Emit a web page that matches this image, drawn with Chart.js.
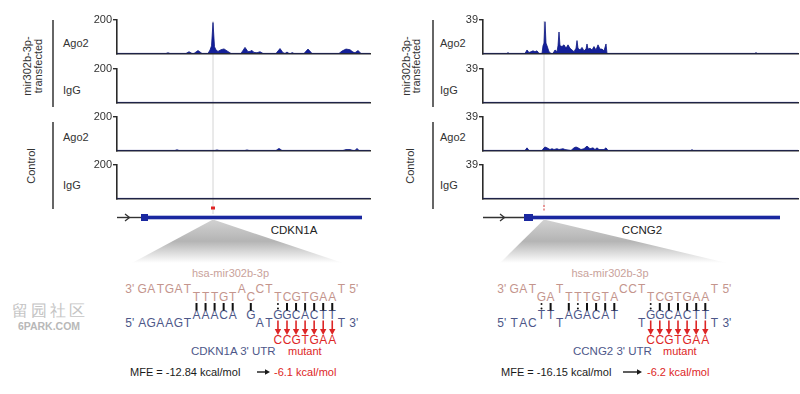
<!DOCTYPE html>
<html><head><meta charset="utf-8">
<script src="https://cdn.jsdelivr.net/npm/chart.js@4.4.1/dist/chart.umd.min.js"></script>
<style>
html,body{margin:0;padding:0;background:#fff;}
#stage{position:relative;width:800px;height:394px;overflow:hidden;background:#fff;}
#stage canvas{position:absolute;}
#deco{position:absolute;left:0;top:0;}
</style></head><body>
<div id="stage"><svg id="deco" width="800" height="394" xmlns="http://www.w3.org/2000/svg"></svg></div>
<script>
// ---------------- DATA ----------------
// coverage tracks: [position along transcript window, reads]
const cdkn1aAgo2Transfected = [[0,0],[49,0],[51,4],[53,0],[69,0],[72,10],[75,0],[77,0],[81,17],[85,0],[91,0],[93,20],[94.5,45],[96,185],[97.5,40],[99,20],[101,12],[104,22],[107,27],[110,15],[114,0],[124,0],[128,36],[131,10],[133,12],[135,18],[137,6],[140,4],[143,10],[146,0],[159,0],[163,29],[166,4],[168,0],[170,8],[172,0],[174,0],[175,5],[177,0],[187,0],[191,26],[195,0],[222,0],[225,14],[229,26],[233,22],[236,8],[238,4],[241,17],[244,0],[253,0]];
const cdkn1aIgGTransfected = [[0,0],[253,0]];
const cdkn1aAgo2Control = [[0,0],[58,0],[60,4],[62,0],[98,0],[100,3],[102,0],[128,0],[130,3],[132,0],[159,0],[162,12],[165,0],[226,0],[229,5],[233,5],[236,0],[238,0],[240,12],[242,0],[253,0]];
const cdkn1aIgGControl = [[0,0],[253,0]];
const ccng2Ago2Transfected = [[0,0],[24,0],[25,1],[26,0],[42,0],[44,4],[46,1],[48,2],[50,3],[52,2],[54,3],[56,0],[59,0],[60,9],[61,12],[62,37],[63,12],[64,9],[66,2],[68,0],[70,0],[72,4],[74,2],[75,9],[76,25],[77,9],[79,8],[81,10],[83,6],[85,10],[87,6],[89,4],[91,2],[93,6],[94,15],[95,6],[97,4],[99,7],[101,3],[103,5],[104,11],[105,5],[107,6],[109,4],[111,8],[113,4],[115,10],[117,5],[119,5],[121,3],[123,11],[124,0],[272,0],[273,1],[274,0],[315,0]];
const ccng2IgGTransfected = [[0,0],[315,0]];
const ccng2Ago2Control = [[0,0],[42,0],[44,3],[46,0],[59,0],[61,3],[62,4],[64,3],[67,1],[69,2],[71,1],[74,2],[76,1],[80,2],[82,1],[88,0],[91,3],[93,4],[95,3],[98,1],[101,2],[104,5],[107,2],[110,3],[112,1],[114,3],[116,1],[121,1],[123,3],[125,0],[208,0],[209,1],[210,0],[315,0]];
const ccng2IgGControl = [[0,0],[315,0]];

const windowLength = [253, 315];
const trackMax = [200, 39];
const trackNames = ['Ago2', 'IgG', 'Ago2', 'IgG'];
const groupNames = [['mir302b-3p-', 'transfected'], ['Control']];
const geneNames = ['CDKN1A', 'CCNG2'];
// gene model in window coordinates: [tss, exonStart, exonEnd, utrEnd]
const cdkn1aModel = [0, 24, 31, 245];
const ccng2Model = [0, 41, 50, 297];
const targetSites = [96, 61];
const chevronPos = [11, 20];

const mirName = 'hsa-mir302b-3p';
// [row, first column, bases]
const cdkn1aMiRNA = [[1,-6,'GATGAT'],[2,0,'TTTGT'],[1,5,'A'],[2,6,'C'],[1,7,'CT'],[2,9,'TCGTGAA'],[1,16,'T']];
const cdkn1aTarget = [[5,-6,'AGAAGT'],[4,0,'AAACA'],[4,6,'G'],[5,7,'AT'],[4,9,'GGCACTT'],[5,16,'T']];
const cdkn1aPairs = '||||| |  :||||||';
const cdkn1aMutant = [9, 'CCGTGAA'];
const ccng2MiRNA = [[1,-3,'GAT'],[2,0,'GA'],[1,2,'T'],[2,3,'TTTGTA'],[1,9,'CCT'],[2,12,'TCGTGAA'],[1,19,'T']];
const ccng2Target = [[5,-3,'TAC'],[4,0,'TT'],[5,2,'T'],[4,3,'AGACAT'],[5,11,'T'],[4,12,'GGCACTT'],[5,19,'T']];
const ccng2Pairs = ':| |:||||   :||||||';
const ccng2Mutant = [12, 'CCGTGAA'];
const utrLabels = ["CDKN1A 3' UTR", "CCNG2 3' UTR"];
const mfeWild = ['MFE = -12.84 kcal/mol', 'MFE = -16.15 kcal/mol'];
const mfeMutant = ['-6.1 kcal/mol', '-6.2 kcal/mol'];

// ---------------- LAYOUT ----------------
const FONT = 'Liberation Sans, Arial, sans-serif';
const NAVY = '#14209a';
const panelTop = [20, 69, 117, 165];
const panelBottom = [59, 108, 156, 204];
const labelY = [43, 90, 137, 185];
const genes = [
  {axisX:117, rightX:370, bracketX:53, labelX:63, rot:[27,37.5], ctrlX:31, col0:196.5, step:9.05,
   tracks:[cdkn1aAgo2Transfected,cdkn1aIgGTransfected,cdkn1aAgo2Control,cdkn1aIgGControl],
   model:cdkn1aModel, mir:cdkn1aMiRNA, tgt:cdkn1aTarget, pairs:cdkn1aPairs, mut:cdkn1aMutant,
   geneLabelX:294, triBase:[132,343], mirX:230.5, utrX:191, mutX:288, mfeX:130, arrow:[257,270], mfe2X:274},
  {axisX:483, rightX:798, bracketX:433, labelX:440, rot:[406,416], ctrlX:410, col0:541.5, step:9.1,
   tracks:[ccng2Ago2Transfected,ccng2IgGTransfected,ccng2Ago2Control,ccng2IgGControl],
   model:ccng2Model, mir:ccng2MiRNA, tgt:ccng2Target, pairs:ccng2Pairs, mut:ccng2Mutant,
   geneLabelX:642, triBase:[500,727], mirX:610, utrX:573, mutX:663, mfeX:501, arrow:[623,642], mfe2X:647}
];

const stage = document.getElementById('stage');
const svg = document.getElementById('deco');
const NS = 'http://www.w3.org/2000/svg';
function el(tag, attrs, text, parent){
  const e = document.createElementNS(NS, tag);
  for (const k in attrs) e.setAttribute(k, attrs[k]);
  if (text != null) e.textContent = text;
  (parent || svg).appendChild(e);
  return e;
}
function txt(s, x, y, o = {}){
  const a = {x, y, 'font-family': FONT, 'font-size': o.size || 11, fill: o.color || '#333',
    'text-anchor': o.anchor || 'start', 'dominant-baseline': 'central'};
  if (o.weight) a['font-weight'] = o.weight;
  if (o.transform) a.transform = o.transform;
  if (o.spacing) a['letter-spacing'] = o.spacing;
  return el('text', a, s);
}

const defs = el('defs', {});
const grad = el('linearGradient', {id:'tri', x1:0, y1:0, x2:0, y2:1}, null, defs);
el('stop', {offset:'0', 'stop-color':'#d2d2d2'}, null, grad);
el('stop', {offset:'0.5', 'stop-color':'#b4b4b4'}, null, grad);
el('stop', {offset:'1', 'stop-color':'#ffffff'}, null, grad);

function makeTrack(points, W, yMax, axisX, rightX, top, bottom){
  const c = document.createElement('canvas');
  const padT = 8, padB = 2, padR = 2, axisW = 40;
  const w = rightX - axisX + axisW + padR, h = bottom - top + padT + padB;
  c.width = w; c.height = h;
  c.style.left = (axisX - axisW) + 'px'; c.style.top = (top - padT) + 'px';
  c.style.width = w + 'px'; c.style.height = h + 'px';
  stage.appendChild(c);
  const chart = new Chart(c, {
    type: 'line',
    data: {datasets: [{data: points.map(p => ({x: p[0], y: p[1]})), fill: 'origin',
      backgroundColor: NAVY, borderColor: '#0c1680', borderWidth: 0.8, pointRadius: 0, tension: 0}]},
    options: {
      responsive: false, animation: false, devicePixelRatio: 1, events: [],
      layout: {padding: {top: padT, bottom: padB, right: padR, left: 0}},
      plugins: {legend: {display: false}, tooltip: {enabled: false}},
      scales: {
        x: {type: 'linear', min: 0, max: W, ticks: {display: false}, grid: {display: false},
            border: {display: true, color: '#2a2a2a', width: 1.6}, afterFit: s => { s.height = 0; }},
        y: {type: 'linear', min: 0, max: yMax,
            afterBuildTicks: s => { s.ticks = [{value: yMax}]; },
            afterFit: s => { s.width = axisW; },
            ticks: {font: {family: 'Liberation Sans', size: 11}, color: '#333', padding: 1},
            grid: {drawOnChartArea: false, drawTicks: true, tickLength: 4, color: '#2a2a2a', lineWidth: 1.4},
            border: {display: true, color: '#2a2a2a', width: 1.6}}
      }
    }
  });
  chart._left = axisX - axisW;
  return chart;
}

genes.forEach((g, gi) => {
  const charts = g.tracks.map((pts, ti) =>
    makeTrack(pts, windowLength[gi], trackMax[gi], g.axisX, g.rightX, panelTop[ti], panelBottom[ti]));
  const ref = charts[3];
  const px = v => ref._left + ref.scales.x.getPixelForValue(v);
  const site = px(targetSites[gi]);

  // site guide line
  el('line', {x1: site, y1: 21, x2: site, y2: gi === 0 ? 214 : 205, stroke: '#d4d4d4', 'stroke-width': 1});
  if (gi === 0) el('rect', {x: site - 2, y: 206.5, width: 4, height: 3, fill: '#e02424'});
  else el('line', {x1: site, y1: 205, x2: site, y2: 212, stroke: '#d03030', 'stroke-width': 1, 'stroke-dasharray': '2,1.5'});

  // track labels
  trackNames.forEach((n, i) => txt(n, g.labelX, labelY[i], {size: 11}));
  // group brackets
  el('line', {x1: g.bracketX, y1: 20, x2: g.bracketX, y2: 107, stroke: '#333', 'stroke-width': 1.5});
  el('line', {x1: g.bracketX, y1: 122, x2: g.bracketX, y2: 209, stroke: '#333', 'stroke-width': 1.5});
  txt(groupNames[0][0], g.rot[0], 66, {anchor: 'middle', transform: `rotate(-90 ${g.rot[0]} 66)`});
  txt(groupNames[0][1], g.rot[1], 66, {anchor: 'middle', transform: `rotate(-90 ${g.rot[1]} 66)`});
  txt(groupNames[1][0], g.ctrlX, 166, {anchor: 'middle', transform: `rotate(-90 ${g.ctrlX} 166)`});

  // gene model
  const m = g.model, gy = 217.5;
  el('line', {x1: px(m[0]), y1: gy, x2: px(m[1]), y2: gy, stroke: '#333', 'stroke-width': 1.4});
  const cx = px(chevronPos[gi]);
  el('polyline', {points: `${cx-3},${gy-3.5} ${cx+1.5},${gy} ${cx-3},${gy+3.5}`, fill: 'none', stroke: '#333', 'stroke-width': 1.3});
  el('rect', {x: px(m[1]), y: gy - 3.5, width: px(m[2]) - px(m[1]), height: 7, fill: '#1a28a0'});
  el('rect', {x: px(m[2]), y: gy - 1.8, width: px(m[3]) - px(m[2]), height: 3.6, fill: '#1a28a0'});
  txt(geneNames[gi], g.geneLabelX, 230, {anchor: 'middle', size: 11.5, color: '#222'});

  // zoom triangle
  el('polygon', {points: `${site},${gy + 2} ${g.triBase[0]},263 ${g.triBase[1]},263`, fill: 'url(#tri)'});

  // alignment
  const col = c => g.col0 + c * g.step;
  const rowY = {1: 289, 2: 297, 4: 315, 5: 323};
  const MIR = '#c4958d', TGT = '#4d5789', RED = '#dd2626';
  txt(mirName, g.mirX, 273, {anchor: 'middle', size: 11, color: '#c9a29b'});
  const drawSeg = (segs, color) => segs.forEach(([r, c0, s]) =>
    [...s].forEach((ch, k) => txt(ch, col(c0 + k), rowY[r], {anchor: 'middle', size: 12, color})));
  drawSeg(g.mir, MIR);
  drawSeg(g.tgt, TGT);
  const first = g.mir[0], last = g.mir[g.mir.length - 1];
  txt("3'", col(first[1]) - 8, rowY[1], {anchor: 'end', size: 12, color: MIR});
  txt("5'", col(last[1]) + 8, rowY[1], {size: 12, color: MIR});
  const tf = g.tgt[0], tl = g.tgt[g.tgt.length - 1];
  txt("5'", col(tf[1]) - 8, rowY[5], {anchor: 'end', size: 12, color: TGT});
  txt("3'", col(tl[1]) + 8, rowY[5], {size: 12, color: TGT});
  [...g.pairs].forEach((p, i) => {
    const x = col(i);
    if (p === '|') el('rect', {x: x - 1, y: 303, width: 2, height: 7.5, fill: '#111'});
    else if (p === ':') {
      el('circle', {cx: x, cy: 304, r: 1, fill: '#111'});
      el('circle', {cx: x, cy: 308.5, r: 1, fill: '#111'});
    }
  });
  [...g.mut[1]].forEach((ch, k) => {
    const x = col(g.mut[0] + k);
    el('line', {x1: x, y1: 320.5, x2: x, y2: 330, stroke: RED, 'stroke-width': 1.6});
    el('polygon', {points: `${x-3.2},329 ${x+3.2},329 ${x},335}`.replace('}', ''), fill: RED});
    txt(ch, x, 340, {anchor: 'middle', size: 12, color: RED});
  });
  txt(utrLabels[gi], g.utrX, 351, {size: 11.5, color: TGT});
  txt('mutant', g.mutX, 351, {size: 11, color: RED});
  txt(mfeWild[gi], g.mfeX, 372, {size: 11, color: '#1a1a1a'});
  el('line', {x1: g.arrow[0], y1: 372, x2: g.arrow[1] - 4, y2: 372, stroke: '#1a1a1a', 'stroke-width': 1.4});
  el('polygon', {points: `${g.arrow[1]-5},369.3 ${g.arrow[1]},372 ${g.arrow[1]-5},374.7`, fill: '#1a1a1a'});
  txt(mfeMutant[gi], g.mfe2X, 372, {size: 11, color: RED});
});

// site watermark seen in the picture
txt('留园社区', 50, 310, {anchor: 'middle', size: 16, color: '#c4c4c4', spacing: 3});
txt('6PARK.COM', 49, 326, {anchor: 'middle', size: 10.5, color: '#b8b8b8', weight: 'bold'});
</script>
</body></html>
